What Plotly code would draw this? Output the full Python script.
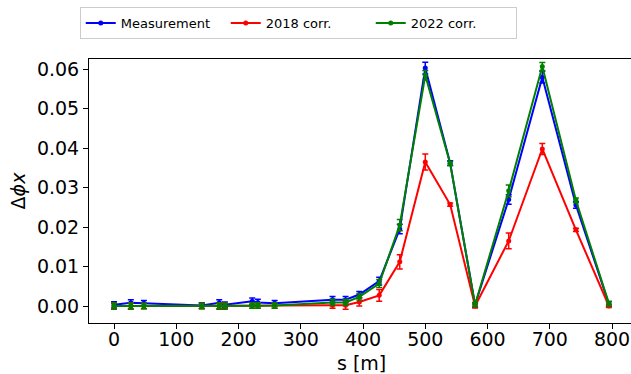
import plotly.graph_objects as go

s = [0, 27, 48, 141, 169, 178, 222, 231, 258, 351, 372, 394, 426, 459, 500, 540, 580, 634, 688, 742, 795]

meas = [0.0003, 0.0008, 0.0007, 0.0001, 0.0008, 0.0003, 0.0012, 0.0009, 0.0007, 0.0016, 0.0016, 0.0029, 0.0063, 0.0195, 0.0603, 0.0362, 0.0003, 0.0270, 0.0580, 0.0256, 0.0005]
meas_err = [0.0008, 0.0008, 0.0007, 0.0007, 0.0008, 0.0007, 0.0008, 0.0008, 0.0007, 0.0008, 0.0008, 0.0008, 0.0010, 0.0012, 0.0015, 0.0006, 0.0006, 0.0012, 0.0015, 0.0008, 0.0006]

c2018 = [0.0000, 0.0000, 0.0000, 0.0000, 0.0000, 0.0000, 0.0001, 0.0001, 0.0001, 0.0002, 0.0002, 0.0010, 0.0027, 0.0112, 0.0365, 0.0257, 0.0000, 0.0165, 0.0398, 0.0193, 0.0000]
c2018_err = [0.0007, 0.0007, 0.0007, 0.0007, 0.0007, 0.0007, 0.0007, 0.0007, 0.0007, 0.0008, 0.0010, 0.0010, 0.0015, 0.0018, 0.0020, 0.0004, 0.0005, 0.0020, 0.0014, 0.0004, 0.0004]

c2022 = [0.0000, 0.0000, 0.0000, 0.0000, 0.0000, 0.0000, 0.0001, 0.0001, 0.0001, 0.0009, 0.0009, 0.0023, 0.0057, 0.0205, 0.0585, 0.0361, 0.0003, 0.0292, 0.0607, 0.0268, 0.0006]
c2022_err = [0.0008, 0.0008, 0.0007, 0.0007, 0.0008, 0.0008, 0.0007, 0.0007, 0.0007, 0.0008, 0.0008, 0.0008, 0.0010, 0.0014, 0.0012, 0.0005, 0.0005, 0.0015, 0.0010, 0.0006, 0.0006]

x_ticks = [0, 100, 200, 300, 400, 500, 600, 700, 800]
y_ticks = [0.00, 0.01, 0.02, 0.03, 0.04, 0.05, 0.06]

series = [
    ("Measurement", meas, meas_err, "#0000ff"),
    ("2018 corr.", c2018, c2018_err, "#ff0000"),
    ("2022 corr.", c2022, c2022_err, "#008000"),
]

fig = go.Figure()
for name, y, err, col in series:
    fig.add_trace(go.Scatter(
        x=s, y=y, name=name, mode="lines+markers",
        line=dict(color=col, width=2),
        marker=dict(color=col, size=5),
        error_y=dict(type="data", array=err, visible=True, color=col, thickness=1.5, width=3),
    ))

font = "DejaVu Sans, sans-serif"
fig.update_layout(
    width=640, height=374,
    margin=dict(l=89, r=7, t=59, b=51, autoexpand=False),
    plot_bgcolor="white", paper_bgcolor="white",
    font=dict(family=font, size=19, color="black"),
    showlegend=True,
    legend=dict(
        orientation="h", x=-0.017, xanchor="left", y=1.197, yanchor="top",
        font=dict(size=13, family=font), bordercolor="#cccccc", borderwidth=1,
        bgcolor="white", itemwidth=30, entrywidth=100, entrywidthmode="pixels",
    ),
    xaxis=dict(
        range=[-40.2, 833.7], tickvals=x_ticks, ticktext=[str(v) for v in x_ticks],
        showline=True, linecolor="black", linewidth=1, mirror=True,
        ticks="outside", ticklen=5, tickcolor="black", showgrid=False, zeroline=False,
        tickfont=dict(size=19), automargin=False, ticklabelstandoff=-6,
    ),
    yaxis=dict(
        range=[-0.00431, 0.06261], tickvals=y_ticks, tickformat=".2f",
        showline=True, linecolor="black", linewidth=1, mirror=False,
        ticks="outside", ticklen=5, tickcolor="black", showgrid=False, zeroline=False,
        title=dict(text="Δ<i>ϕx</i>", font=dict(size=19), standoff=6),
        tickfont=dict(size=19), automargin=False,
    ),
    annotations=[dict(
        text="s [m]", xref="paper", yref="paper", x=(361 - 89) / 544, y=-(363 - 322.7) / 263.7,
        xanchor="center", yanchor="middle", showarrow=False, font=dict(size=19, family=font),
    )],
)

fig.write_html(
    "out.html",
    config={"displayModeBar": False},
    post_script="document.body.style.margin='0';document.body.style.overflow='hidden';",
)
